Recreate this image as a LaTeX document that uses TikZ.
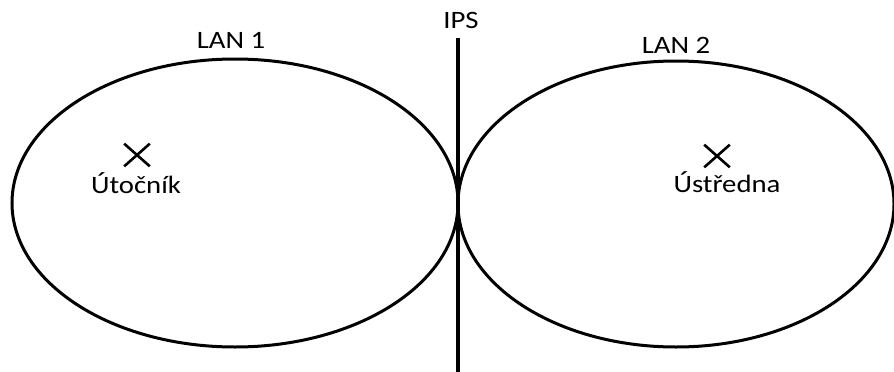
\documentclass[tikz,border=0pt]{standalone}
\usepackage{fontspec}
\setmainfont{Carlito}
\usetikzlibrary{shapes.misc}
\begin{document}
\begin{tikzpicture}[x=1pt,y=-1pt,
  lan/.style={draw=black,line width=3pt},
  lbl/.style={inner sep=0pt,anchor=base,font=\fontsize{25}{30}\selectfont,xscale=1.15,transform shape},
  xmark/.style={draw=black,cross out,line width=2.6pt,minimum width=23pt,minimum height=20pt,inner sep=0pt}
]
\useasboundingbox (0,0) rectangle (894,372);
\draw[lan] (235,203) ellipse [x radius=223pt, y radius=144pt];
\draw[lan] (676,204) ellipse [x radius=218pt, y radius=143pt];
\coordinate (ipsTop) at (458,38);
\coordinate (ipsBot) at (458,372);
\draw[line width=3.5pt] (ipsTop) -- (ipsBot);
\node[lbl] (ips) at (461,28) {IPS};
\node[lbl] (lan1) at (231,48) {LAN 1};
\node[lbl] (lan2) at (676,53) {LAN 2};
\node[xmark] (x1) at (137,155) {};
\node[xmark] (x2) at (717,156) {};
\node[lbl] (uto) at (136,193) {Útočník};
\node[lbl] (ust) at (727,192) {Ústředna};
\end{tikzpicture}
\end{document}
